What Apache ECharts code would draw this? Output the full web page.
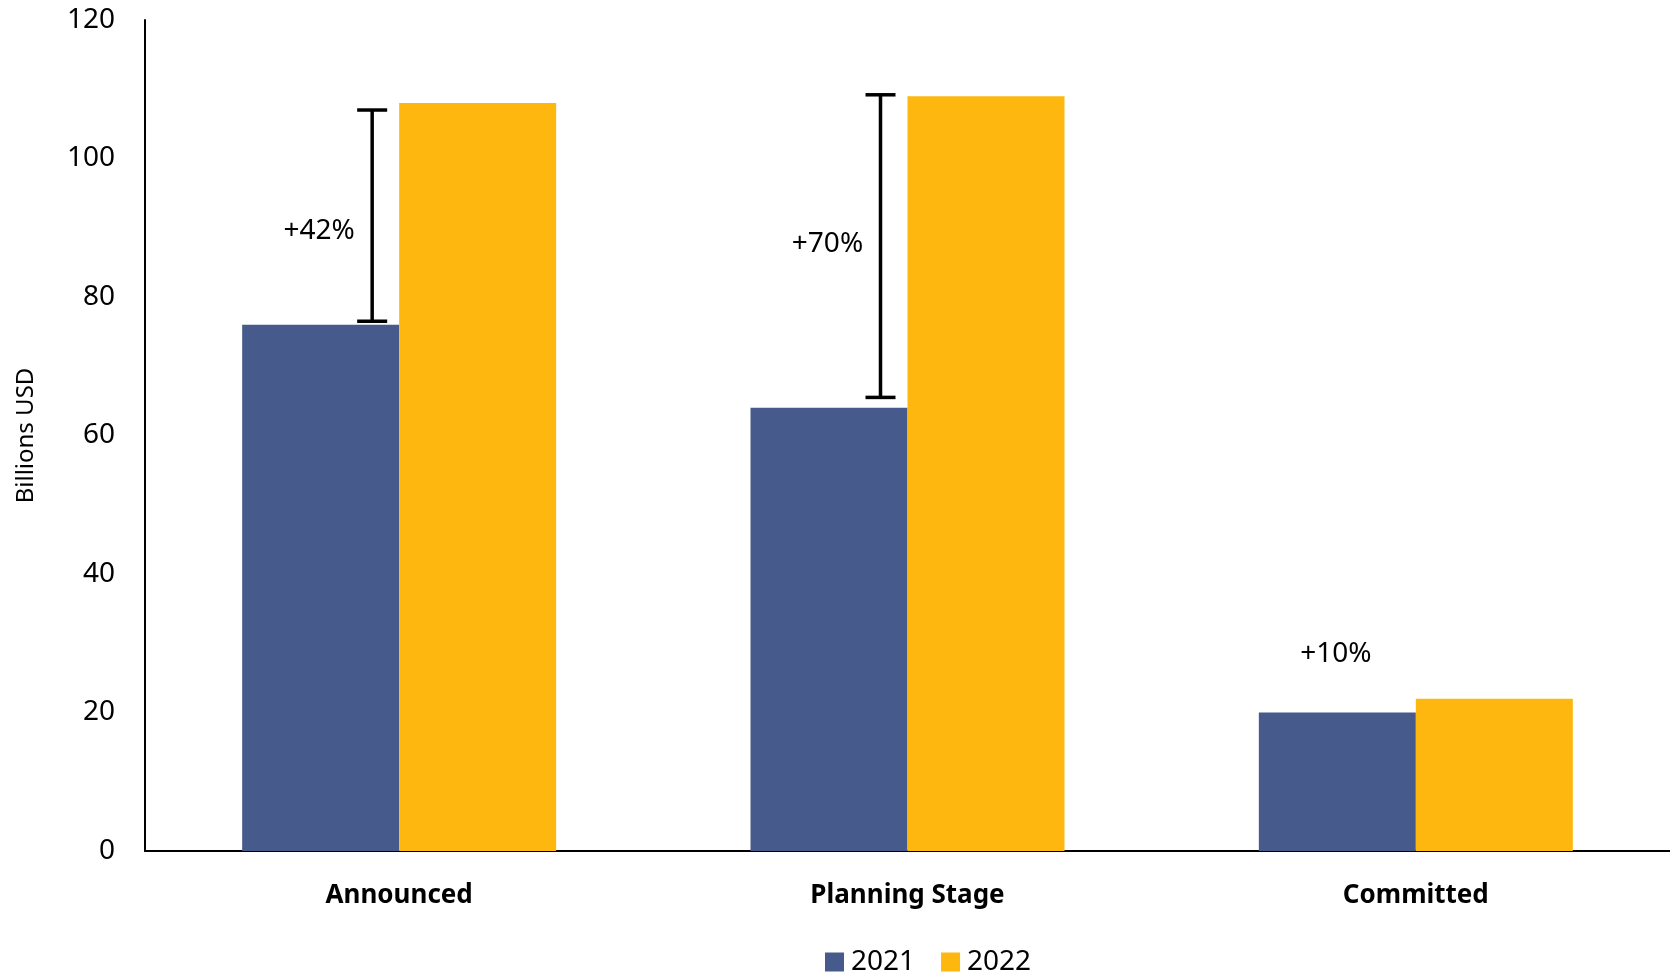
<!DOCTYPE html>
<html>
<head>
<meta charset="utf-8">
<script src="https://cdn.jsdelivr.net/npm/echarts@6/dist/echarts.min.js"></script>
<style>
html,body{margin:0;padding:0;background:#fff;}
#chart{width:1670px;height:972px;}
</style>
</head>
<body>
<div id="chart"></div>
<script>
const categories = ['Announced', 'Planning Stage', 'Committed'];
const values2021 = [76, 64, 20];
const values2022 = [108, 109, 22];
const seriesNames = ['2021', '2022'];
// growth bracket ranges [categoryIndex, low, high]
const growthBrackets = [[0, 76.5, 107], [1, 65.5, 109.2]];
// growth labels [categoryIndex, y value]
const growthLabelPos = [[0, 89.5], [1, 87.7], [2, 28.4]];
const growthLabels = ['+42%', '+70%', '+10%'];

const FONT = '"Noto Sans", "Open Sans", sans-serif';
const chart = echarts.init(document.getElementById('chart'));
chart.setOption({
  animation: false,
  backgroundColor: '#ffffff',
  textStyle: { fontFamily: FONT },
  grid: { left: 145, right: -4, top: 20, bottom: 121, containLabel: false },
  legend: {
    data: seriesNames,
    top: 943,
    left: 820,
    itemWidth: 19,
    itemHeight: 19,
    itemGap: 26,
    icon: 'rect',
    textStyle: { fontSize: 28, color: '#000', fontFamily: FONT, padding: [0, 0, 0, 2] }
  },
  xAxis: {
    type: 'category',
    data: categories,
    axisLine: { lineStyle: { color: '#000', width: 2 } },
    axisTick: { show: false },
    axisLabel: { fontSize: 26, fontWeight: 'bold', color: '#000', margin: 32, fontFamily: FONT }
  },
  yAxis: {
    type: 'value',
    min: 0, max: 120, interval: 20,
    name: 'Billions USD',
    nameLocation: 'middle',
    nameGap: 107,
    nameRotate: 90,
    nameTextStyle: { fontSize: 24, color: '#000', fontFamily: FONT },
    axisLine: { show: true, lineStyle: { color: '#000', width: 2 } },
    axisTick: { show: false },
    splitLine: { show: false },
    axisLabel: { fontSize: 28, color: '#000', margin: 30, fontFamily: FONT }
  },
  series: [
    { name: seriesNames[0], type: 'bar', data: values2021, barWidth: 157, barGap: '0%', itemStyle: { color: '#475A8C' } },
    { name: seriesNames[1], type: 'bar', data: values2022, barWidth: 157, itemStyle: { color: '#FDB70E' } },
    {
      type: 'custom',
      data: growthBrackets,
      z: 5,
      renderItem: function (params, api) {
        const lo = api.coord([api.value(0), api.value(1)]);
        const hi = api.coord([api.value(0), api.value(2)]);
        const x = lo[0] - 27;
        const cap = 15;
        const style = { stroke: '#000', lineWidth: 3.5 };
        return {
          type: 'group',
          children: [
            { type: 'line', shape: { x1: x, y1: lo[1], x2: x, y2: hi[1] }, style: style },
            { type: 'line', shape: { x1: x - cap, y1: lo[1], x2: x + cap, y2: lo[1] }, style: style },
            { type: 'line', shape: { x1: x - cap, y1: hi[1], x2: x + cap, y2: hi[1] }, style: style }
          ]
        };
      }
    },
    {
      type: 'custom',
      data: growthLabelPos.map((p, i) => [p[0], p[1], i]),
      z: 6,
      renderItem: function (params, api) {
        const pt = api.coord([api.value(0), api.value(1)]);
        return {
          type: 'text',
          style: {
            x: pt[0] - 80, y: pt[1],
            text: growthLabels[api.value(2)],
            fontSize: 28, fontFamily: FONT, fill: '#000',
            align: 'center', verticalAlign: 'middle'
          }
        };
      }
    }
  ]
});
</script>
</body>
</html>
